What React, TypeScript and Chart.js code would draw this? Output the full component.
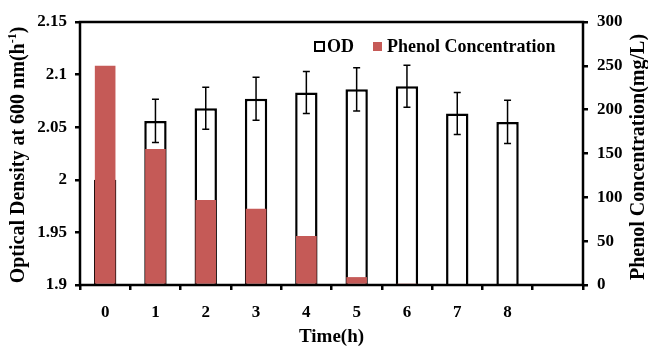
import React, { useEffect, useRef } from 'react';
import { Chart, registerables } from 'chart.js';
Chart.register(...registerables);

const timeLabels = ['0', '1', '2', '3', '4', '5', '6', '7', '8', ''];
const odValues = [2.0, 2.056, 2.068, 2.077, 2.083, 2.086, 2.089, 2.063, 2.055, null];
const odErrors = [0, 0.0205, 0.02, 0.0205, 0.02, 0.0205, 0.02, 0.02, 0.0205, 0];
const phenolValues = [250, 155, 97, 87, 56, 9, 1, 0, 0, null];
const odTicks = [1.9, 1.95, 2, 2.05, 2.1, 2.15];
const phenolTicks = [0, 50, 100, 150, 200, 250, 300];

const FONT = '"Liberation Serif", "Times New Roman", serif';
const RED = '#C55A57';

const errorBarPlugin = {
  id: 'errorBars',
  afterDatasetDraw(chart: any, args: any) {
    if (args.index !== 0) return;
    const ctx = chart.ctx;
    const meta = chart.getDatasetMeta(0);
    const y = chart.scales.y;
    ctx.save();
    ctx.strokeStyle = '#000';
    ctx.lineWidth = 1.5;
    meta.data.forEach((bar: any, i: number) => {
      const v = odValues[i];
      const e = odErrors[i];
      if (v == null || !e) return;
      const x = bar.x;
      const yTop = y.getPixelForValue(v + e);
      const yBot = y.getPixelForValue(v - e);
      ctx.beginPath();
      ctx.moveTo(x, yTop);
      ctx.lineTo(x, yBot);
      ctx.moveTo(x - 3.5, yTop);
      ctx.lineTo(x + 3.5, yTop);
      ctx.moveTo(x - 3.5, yBot);
      ctx.lineTo(x + 3.5, yBot);
      ctx.stroke();
    });
    ctx.restore();
  },
};

const decorPlugin = {
  id: 'decor',
  afterDraw(chart: any) {
    const ctx = chart.ctx;
    const a = chart.chartArea;
    ctx.save();
    // frame
    ctx.strokeStyle = '#000';
    ctx.lineWidth = 2.5;
    ctx.strokeRect(a.left, a.top, a.right - a.left, a.bottom - a.top);

    // legend
    ctx.fillStyle = '#fff';
    ctx.fillRect(315, 42, 9, 9);
    ctx.lineWidth = 2;
    ctx.strokeRect(315, 42, 9, 9);
    ctx.fillStyle = RED;
    ctx.fillRect(373, 42, 9, 9);
    ctx.fillStyle = '#000';
    ctx.font = `bold 18px ${FONT}`;
    ctx.textBaseline = 'middle';
    ctx.textAlign = 'left';
    ctx.fillText('OD', 327, 47);
    ctx.fillText('Phenol Concentration', 387, 47);

    // x title
    ctx.font = `bold 19px ${FONT}`;
    ctx.textAlign = 'center';
    ctx.fillText('Time(h)', (a.left + a.right) / 2, 337);

    // left title with superscript
    const main = 'Optical Density at 600 nm(h';
    const sup = '-1';
    const close = ')';
    ctx.save();
    ctx.translate(19, 155);
    ctx.rotate(-Math.PI / 2);
    ctx.font = `bold 20px ${FONT}`;
    const w1 = ctx.measureText(main).width;
    const w3 = ctx.measureText(close).width;
    ctx.font = `bold 12px ${FONT}`;
    const w2 = ctx.measureText(sup).width;
    const total = w1 + w2 + w3;
    const x0 = -total / 2;
    ctx.textAlign = 'left';
    ctx.font = `bold 20px ${FONT}`;
    ctx.fillText(main, x0, 0);
    ctx.font = `bold 12px ${FONT}`;
    ctx.fillText(sup, x0 + w1, -6);
    ctx.font = `bold 20px ${FONT}`;
    ctx.fillText(close, x0 + w1 + w2, 0);
    ctx.restore();

    // right title
    ctx.save();
    ctx.translate(639, 157);
    ctx.rotate(-Math.PI / 2);
    ctx.font = `bold 20px ${FONT}`;
    ctx.textAlign = 'center';
    ctx.fillText('Phenol Concentration(mg/L)', 0, 0);
    ctx.restore();

    ctx.restore();
  },
};

export default function App() {
  const ref = useRef<HTMLCanvasElement>(null);
  useEffect(() => {
    if (!ref.current) return;
    const chart = new Chart(ref.current, {
      type: 'bar',
      data: {
        labels: timeLabels,
        datasets: [
          {
            label: 'OD',
            data: odValues as any,
            yAxisID: 'y',
            backgroundColor: '#fff',
            borderColor: '#000',
            borderWidth: 2.5,
            borderSkipped: 'start',
            categoryPercentage: 1,
            barPercentage: 0.445,
            grouped: false,
            order: 2,
          },
          {
            label: 'Phenol Concentration',
            data: phenolValues as any,
            yAxisID: 'y1',
            backgroundColor: RED,
            borderWidth: 0,
            categoryPercentage: 1,
            barPercentage: 0.41,
            grouped: false,
            order: 1,
          },
        ],
      },
      options: {
        responsive: false,
        animation: false,
        devicePixelRatio: 1,
        layout: { padding: { top: 22, left: 0, right: 0, bottom: 0 } },
        plugins: { legend: { display: false }, tooltip: { enabled: false } },
        scales: {
          x: {
            offset: true,
            grid: { display: true, offset: true, drawOnChartArea: false, color: '#000', lineWidth: 2.5, tickLength: 5 },
            border: { display: false },
            ticks: { color: '#000', font: { family: FONT, size: 17, weight: 'bold' }, padding: 12, maxRotation: 0 },
            afterFit: (s: any) => { s.height = 62; },
          },
          y: {
            position: 'left',
            min: 1.9,
            max: 2.15,
            afterBuildTicks: (s: any) => { s.ticks = odTicks.map((v) => ({ value: v })); },
            grid: { display: true, drawOnChartArea: false, color: '#000', lineWidth: 2.5, tickLength: 5 },
            border: { display: false },
            ticks: {
              color: '#000',
              font: { family: FONT, size: 17, weight: 'bold' },
              padding: 8,
              callback: (v: any) => String(Number(Number(v).toFixed(2))),
            },
            afterFit: (s: any) => { s.width = 80; },
          },
          y1: {
            position: 'right',
            min: 0,
            max: 300,
            afterBuildTicks: (s: any) => { s.ticks = phenolTicks.map((v) => ({ value: v })); },
            grid: { display: true, drawOnChartArea: false, color: '#000', lineWidth: 2.5, tickLength: 5 },
            border: { display: false },
            ticks: { color: '#000', font: { family: FONT, size: 17, weight: 'bold' }, padding: 9 },
            afterFit: (s: any) => { s.width = 65; },
          },
        },
      },
      plugins: [errorBarPlugin, decorPlugin],
    });
    return () => chart.destroy();
  }, []);
  return (
    <div style={{ position: 'absolute', left: 0, top: 0, width: 648, height: 347 }}>
      <canvas ref={ref} width={648} height={347} />
    </div>
  );
}
